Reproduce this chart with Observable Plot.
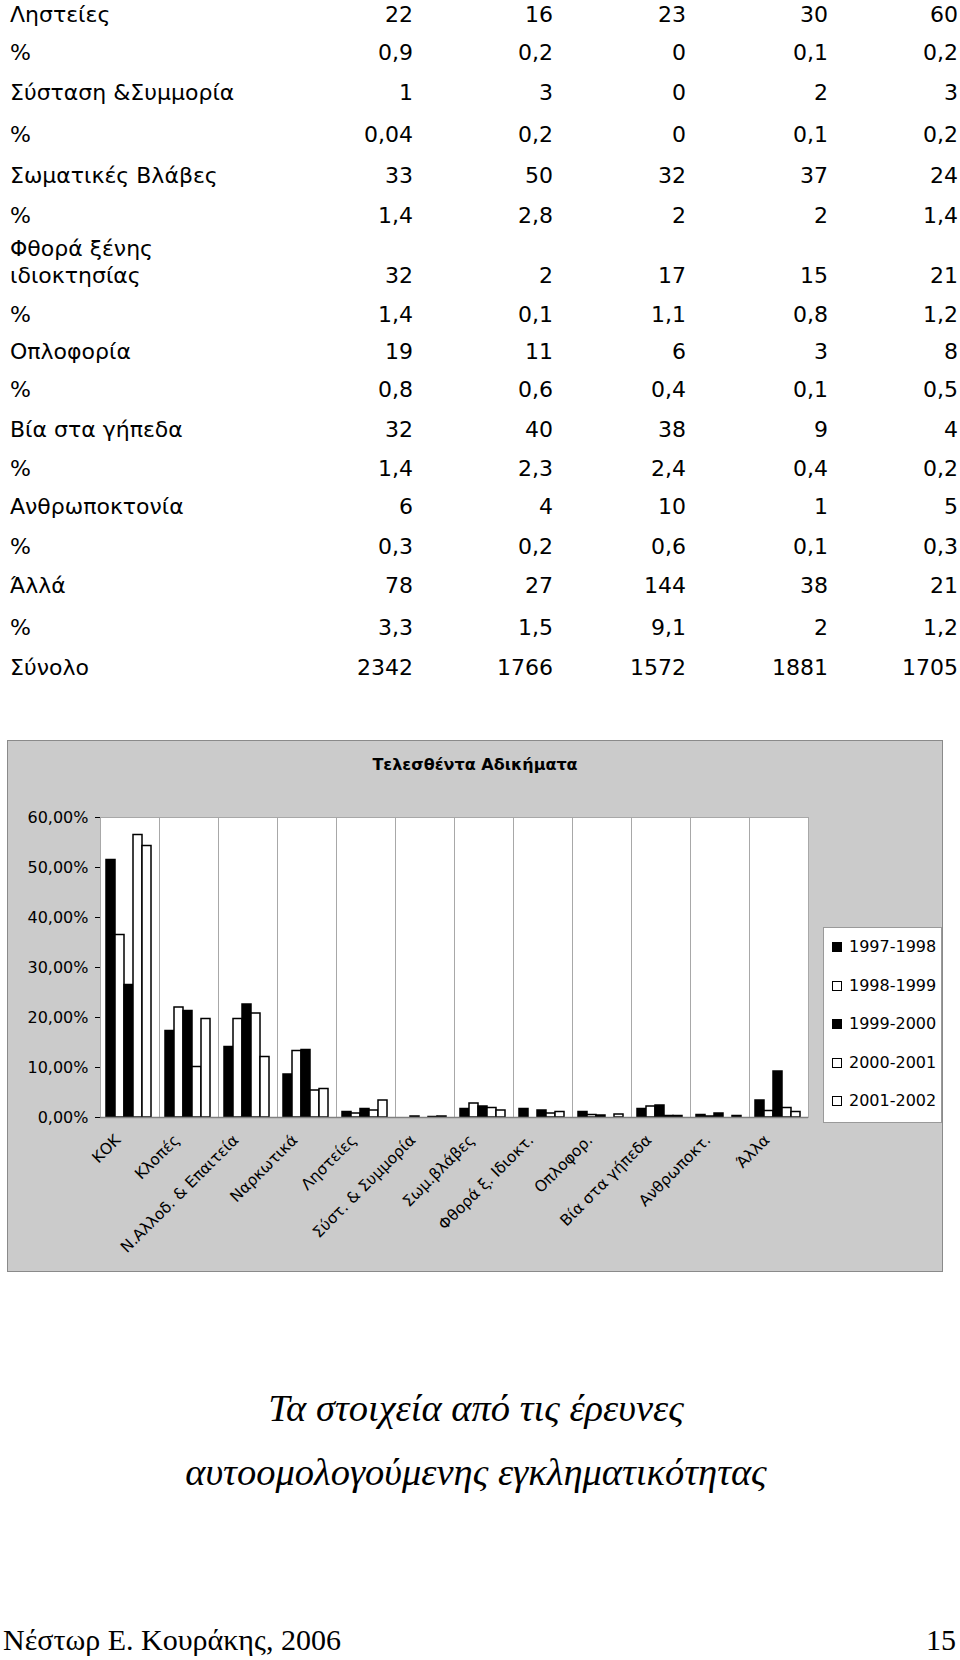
<!DOCTYPE html>
<html>
<head>
<meta charset="utf-8">
<script src="https://cdn.jsdelivr.net/npm/d3@7"></script>
<script src="https://cdn.jsdelivr.net/npm/@observablehq/plot@0.6"></script>
<style>
html, body { margin: 0; padding: 0; background: #fff; }
body { width: 960px; height: 1660px; position: relative; overflow: hidden; font-family: "DejaVu Sans", Verdana, sans-serif; color: #000; }
.cell { position: absolute; font-size: 22px; line-height: 26px; white-space: nowrap; }
#chartbox { position: absolute; left: 7px; top: 740px; width: 936px; height: 532px; box-sizing: border-box; border: 1px solid #8a8a8a; background: #cbcbcb; }
#plot { position: absolute; left: 0; top: 0; }
#title { position: absolute; left: 0; width: 934px; top: 14px; text-align: center; font-weight: bold; font-size: 16px; line-height: 20px; }
#legend { position: absolute; left: 815px; top: 186px; width: 119px; height: 196px; box-sizing: border-box; border: 1px solid #9a9a9a; background: #fff; }
.li { position: absolute; left: 8px; height: 20px; line-height: 20px; font-size: 16px; white-space: nowrap; }
.sw { position: absolute; left: 0; top: 5px; width: 10px; height: 10px; box-sizing: border-box; border: 1.5px solid #000; }
.note { position: absolute; left: 0; width: 952px; text-align: center; font-family: "Liberation Serif", "DejaVu Serif", serif; font-style: italic; font-size: 38.5px; line-height: 40px; }
.foot { position: absolute; font-family: "Liberation Serif", "DejaVu Serif", serif; font-size: 30px; line-height: 34px; white-space: nowrap; }
</style>
</head>
<body>
<div id="table"></div>
<div id="chartbox">
  <div id="plot"></div>
  <div id="title">Τελεσθέντα Αδικήματα</div>
  <div id="legend"></div>
</div>
<div class="note" style="top:1388px">Τα στοιχεία από τις έρευνες</div>
<div class="note" style="top:1452px">αυτοομολογούμενης εγκληματικότητας</div>
<div class="foot" style="left:3px; top:1623px">Νέστωρ Ε. Κουράκης, 2006</div>
<div class="foot" style="right:4px; top:1623px">15</div>
<script>
// ---------- Table data ----------
const tableLabels = ["Ληστείες", "%", "Σύσταση &Συμμορία", "%", "Σωματικές Βλάβες", "%", "Φθορά ξένης|ιδιοκτησίας", "%", "Οπλοφορία", "%", "Βία στα γήπεδα", "%", "Ανθρωποκτονία", "%", "Άλλά", "%", "Σύνολο"];
const table9798 = [22, 0.9, 1, 0.04, 33, 1.4, 32, 1.4, 19, 0.8, 32, 1.4, 6, 0.3, 78, 3.3, 2342];
const table9899 = [16, 0.2, 3, 0.2, 50, 2.8, 2, 0.1, 11, 0.6, 40, 2.3, 4, 0.2, 27, 1.5, 1766];
const table9900 = [23, 0, 0, 0, 32, 2, 17, 1.1, 6, 0.4, 38, 2.4, 10, 0.6, 144, 9.1, 1572];
const table0001 = [30, 0.1, 2, 0.1, 37, 2, 15, 0.8, 3, 0.1, 9, 0.4, 1, 0.1, 38, 2, 1881];
const table0102 = [60, 0.2, 3, 0.2, 24, 1.4, 21, 1.2, 8, 0.5, 4, 0.2, 5, 0.3, 21, 1.2, 1705];

// ---------- Chart data ----------
const categories = ["ΚΟΚ", "Κλοπές", "Ν.Αλλοδ. & Επαιτεία", "Ναρκωτικά", "Ληστείες", "Σύστ. & Συμμορία", "Σωμ.βλάβες", "Φθορά ξ. Ιδιοκτ.", "Οπλοφορ.", "Βία στα γήπεδα", "Ανθρωποκτ.", "Άλλα"];
const seasons = ["1997-1998", "1998-1999", "1999-2000", "2000-2001", "2001-2002"];
const pct9798 = [51.5, 17.3, 14.1, 8.6, 1.1, 0.0, 1.7, 1.7, 1.1, 1.7, 0.5, 3.4];
const pct9899 = [36.5, 22.0, 19.7, 13.3, 0.8, 0.2, 2.8, 0.0, 0.5, 2.2, 0.2, 1.3];
const pct9900 = [26.5, 21.3, 22.6, 13.5, 1.7, 0.0, 2.2, 1.4, 0.4, 2.4, 0.8, 9.2];
const pct0001 = [56.5, 10.1, 20.8, 5.4, 1.4, 0.1, 1.9, 0.8, 0.0, 0.3, 0.0, 1.9];
const pct0102 = [54.3, 19.7, 12.1, 5.7, 3.4, 0.2, 1.4, 1.1, 0.6, 0.3, 0.3, 1.1];
const yTicks = [0, 10, 20, 30, 40, 50, 60];

// ---------- layout / style (not data) ----------
const rowCenters = [15, 53, 93, 135, 176, 216, 276, 315, 352, 390, 430, 469, 507, 547, 586, 628, 668];
const colRights = [413, 553, 686, 828, 958];
const seasonFills = ["#000", "#fff", "#000", "#fff", "#fff"];

// ---------- Table ----------
const tableEl = document.getElementById("table");
const tableCols = [table9798, table9899, table9900, table0001, table0102];
const fmt = v => String(v).replace(".", ",");
tableLabels.forEach((lab, i) => {
  const yc = rowCenters[i];
  const parts = lab.split("|");
  parts.forEach((p, k) => {
    const d = document.createElement("div");
    d.className = "cell";
    d.style.left = "10px";
    d.style.top = (yc - 13 - (parts.length - 1 - k) * 27) + "px";
    d.textContent = p;
    tableEl.appendChild(d);
  });
  tableCols.forEach((col, j) => {
    const d = document.createElement("div");
    d.className = "cell";
    d.style.right = (960 - colRights[j]) + "px";
    d.style.top = (yc - 13) + "px";
    d.textContent = fmt(col[i]);
    tableEl.appendChild(d);
  });
});

// ---------- Chart ----------
const seriesVals = [pct9798, pct9899, pct9900, pct0001, pct0102];
const rows = seasons.flatMap((s, i) => categories.map((c, j) => ({category: c, season: s, value: seriesVals[i][j]})));

const hasAxisMarks = typeof Plot.axisFx === "function";
const fxOptions = {domain: categories, padding: 0, label: null};
if (!hasAxisMarks) Object.assign(fxOptions, {axis: "bottom", tickRotate: -45, tickSize: 0, tickPadding: 20});

const chart = Plot.plot({
  width: 934,
  height: 530,
  marginLeft: 92,
  marginRight: 134,
  marginTop: 76,
  marginBottom: 154,
  style: {background: "transparent", fontFamily: "'DejaVu Sans', Verdana, sans-serif", fontSize: "16px", color: "#000", overflow: "visible"},
  fx: fxOptions,
  x: {domain: seasons, axis: null, paddingInner: 0, paddingOuter: 0.5, align: 0.4},
  y: {domain: [0, 60], ticks: yTicks, tickFormat: d => d.toFixed(2).replace(".", ",") + "%", tickSize: 5, tickPadding: 7, label: null},
  color: {domain: seasons, range: seasonFills},
  marks: [
    Plot.frame({fill: "#fff", stroke: "#a8a8a8"}),
    Plot.barY(rows, {fx: "category", x: "season", y: "value", fill: "season", stroke: "#000", strokeWidth: 1.5}),
    Plot.ruleY([0], {stroke: "#808080", strokeWidth: 1.5}),
    ...(hasAxisMarks ? [Plot.axisFx({anchor: "bottom", tickRotate: -45, tickSize: 0, tickPadding: 20, dx: -12, label: null, fontSize: 15.5})] : [])
  ]
});
document.getElementById("plot").appendChild(chart);

// ---------- Legend ----------
const legendEl = document.getElementById("legend");
seasons.forEach((s, i) => {
  const li = document.createElement("div");
  li.className = "li";
  li.style.top = (9 + i * 38.5) + "px";
  const sw = document.createElement("span");
  sw.className = "sw";
  sw.style.background = seasonFills[i];
  li.appendChild(sw);
  const t = document.createElement("span");
  t.style.marginLeft = "17px";
  t.textContent = s;
  li.appendChild(t);
  legendEl.appendChild(li);
});
</script>
</body>
</html>
